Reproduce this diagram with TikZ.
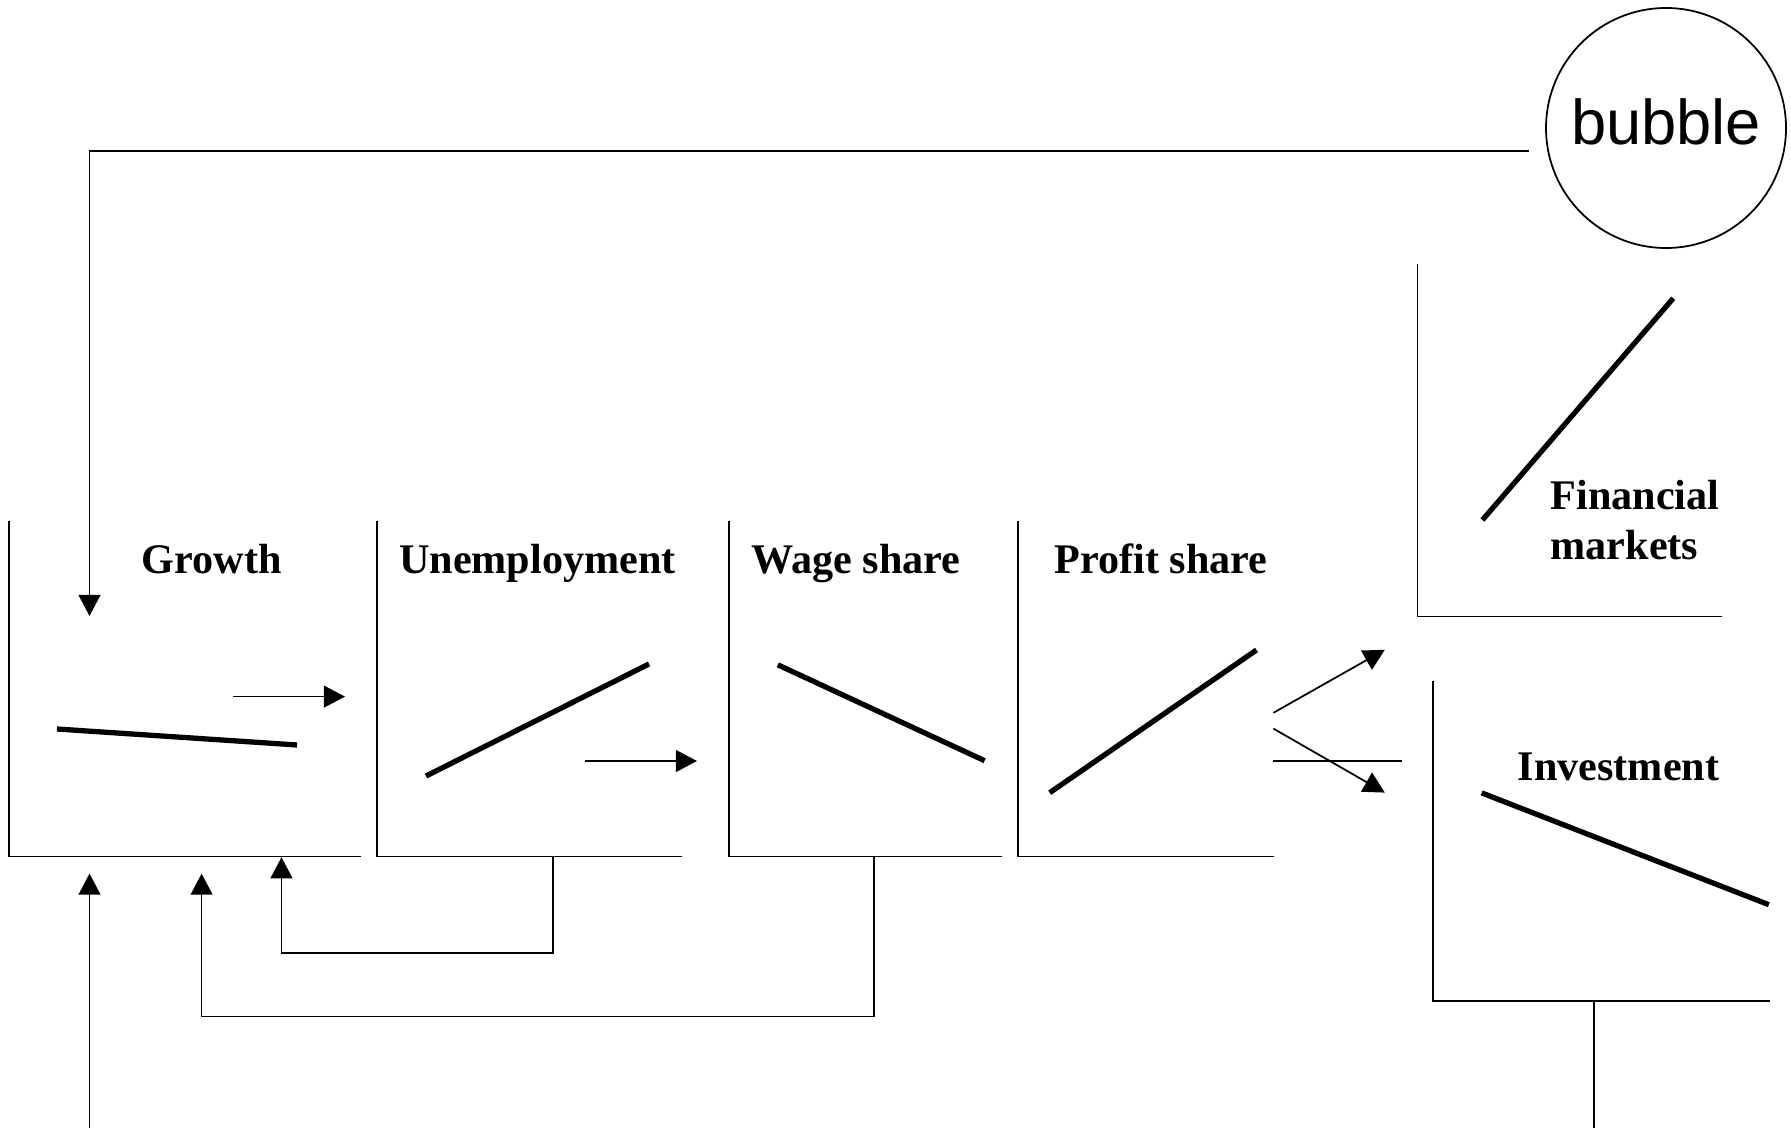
\documentclass[tikz,border=0pt]{standalone}
\usepackage{fontspec}
\setmainfont{Liberation Serif}
\newfontfamily\bubblefont{Liberation Sans}
\usetikzlibrary{arrows.meta}

\tikzset{
    axis/.style={line width=0.5pt},
    curve/.style={line width=1.5pt},
    link/.style={line width=0.5pt},
    title/.style={font=\bfseries\fontsize{12}{14.2}\selectfont, inner sep=0pt},
}

\begin{document}
\begin{tikzpicture}[>={Triangle[length=6pt,width=6.2pt]}, x=0.1mm, y=-0.1mm]
\useasboundingbox (0,0) rectangle (1791,1128);

% the four panels in a row
\foreach \l/\r in {8.7/361, 377/682, 728.7/1001.7, 1017.7/1273.5}
{
    \draw[axis] (\l,521)--(\l,856.4)--(\r,856.4);
}
% financial markets and investment
\draw[axis] (1417.4,264)--(1417.4,616.5)--(1722,616.5);
\draw[axis] (1433.3,681)--(1433.3,1000.7)--(1770,1000.7);

\node[title, anchor=base] (growth) at (211.7,573){Growth};
\node[title, anchor=base] (unemp) at (537.4,573){Unemployment};
\node[title, anchor=base] (wage) at (856,573){Wage share};
\node[title, anchor=base] (profit) at (1161,573){Profit share};
\node[title, anchor=north west, align=left] (fin) at (1550,479.5){Financial\\markets};
\node[title, anchor=base] (inv) at (1618.6,780){Investment};

\node[draw, line width=0.5pt, circle, minimum size=2.4cm, inner sep=0pt, text depth=1.2mm,
      font=\bubblefont\fontsize{18}{18}\selectfont] (bubble) at (1666,128){bubble};

% curves
\draw[curve] (57,729)--(297,745);
\draw[curve] (426,776)--(649,664);
\draw[curve] (777.8,664.8)--(984.6,760.7);
\draw[curve] (1049.7,792.7)--(1256.5,650);
\draw[curve] (1482.4,520)--(1673.2,298.3);
\draw[curve] (1481.7,792.9)--(1768.8,904.7);

% small arrows
\draw[link,->] (233,696.6)--(345,696.6);
\draw[link,->] (585,761)--(697,761);
\draw[link,->] (1273.4,712.8)--(1384.8,649.8);
\draw[link,->] (1273.4,728.6)--(1384.8,792.6);
\draw[link] (1273.4,761)--(1402.3,761);

% feedback loops
\coordinate (growth-in) at (89.5,616);
\coordinate (unemp-out) at (553,856.4);
\coordinate (unemp-in) at (281.5,857.2);
\coordinate (wage-out) at (873.8,856.4);
\coordinate (wage-in) at (201.6,873.6);
\coordinate (inv-out) at (1593.8,1000.7);
\coordinate (inv-in) at (89.5,873.6);

\draw[link,->,shorten <=1.8mm] (bubble.191.5) -| (growth-in);
\draw[link,->] (unemp-out) -- ++(0,96.6) -| (unemp-in);
\draw[link,->] (wage-out) -- ++(0,160.2) -| (wage-in);
\draw[link] (inv-out) -- (inv-out |- 0,1128);
\draw[link,->] (inv-in |- 0,1128) -- (inv-in);

\end{tikzpicture}
\end{document}
